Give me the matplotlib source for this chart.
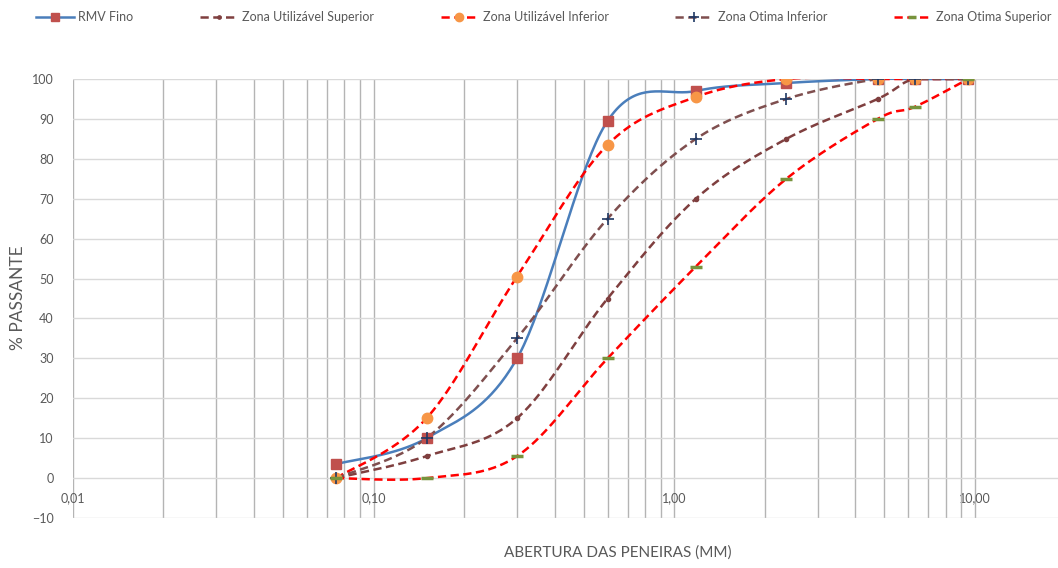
import numpy as np
import matplotlib
matplotlib.use('Agg')
import matplotlib.pyplot as plt
from matplotlib.ticker import LogLocator, FixedLocator, FixedFormatter, NullFormatter
from matplotlib.lines import Line2D

plt.rcParams['font.family'] = ['Lato', 'DejaVu Sans']

# Aberturas das peneiras (mm) e % passante
peneiras = [0.075, 0.15, 0.3, 0.6, 1.18, 2.36, 4.75, 6.3, 9.5]
rmv_fino = [3.5, 10, 30, 89.5, 97, 99, 100, 100, 100]
util_superior = [0, 5.5, 15, 45, 70, 85, 95, 100, 100]
util_inferior = [0, 15, 50.5, 83.5, 95.5, 100, 100, 100, 100]
otima_inferior = [0, 10, 35, 65, 85, 95, 100, 100, 100]
otima_superior = [0, 0, 5.5, 30, 53, 75, 90, 93, 100]

x_ticks = [0.01, 0.1, 1, 10]
x_labels = ['0,01', '0,10', '1,00', '10,00']
y_ticks = list(range(-10, 101, 10))


def suaviza(x, y, n=40):
    # curva suavizada estilo Excel (Catmull-Rom / Bezier) no espaco da tela
    X = np.log10(np.array(x, float)) * 300.7
    Y = np.array(y, float) * 4.0
    P = np.column_stack([X, Y])
    P = np.vstack([P[0], P, P[-1]])
    out = []
    for i in range(1, len(P) - 2):
        p0, p1, p2, p3 = P[i - 1], P[i], P[i + 1], P[i + 2]
        c1 = p1 + (p2 - p0) / 6
        c2 = p2 - (p3 - p1) / 6
        t = np.linspace(0, 1, n)[:, None]
        b = (1 - t) ** 3 * p1 + 3 * (1 - t) ** 2 * t * c1 + 3 * (1 - t) * t ** 2 * c2 + t ** 3 * p2
        out.append(b)
    out = np.vstack(out)
    return 10 ** (out[:, 0] / 300.7), out[:, 1] / 4.0


fig = plt.figure(figsize=(10.58, 5.68), dpi=100)
ax = fig.add_axes([73 / 1058, 1 - 518 / 568, 1 - 73 / 1058, (518 - 79) / 568])
ax.set_xscale('log')
ax.set_xlim(0.01, 18.9)
ax.set_ylim(-10, 100)

dash = (0, (3.3, 1.8))
series = [
    ('RMV Fino', rmv_fino, '#4A7EBB', '-', 's', '#C0504D', 7, 1.0),
    ('Zona Utilizável Superior', util_superior, '#7F3F3F', dash, 'o', '#7F3F3F', 3, 1.0),
    ('Zona Utilizável Inferior', util_inferior, '#FF0000', dash, 'o', '#F79646', 7.5, 1.0),
    ('Zona Otima Inferior', otima_inferior, '#7F4F4F', dash, '+', '#1F3864', 9, 1.2),
    ('Zona Otima Superior', otima_superior, '#FF0000', dash, '_', '#77933C', 8, 2.5),
]

handles = []
for nome, vals, cor, ls, mk, mcor, ms, mew in series:
    xs, ys = suaviza(peneiras, vals)
    ax.plot(xs, ys, color=cor, linestyle=ls, linewidth=1.8, zorder=3)
    ax.plot(peneiras, vals, linestyle='none', marker=mk, markersize=ms,
            markerfacecolor=mcor, markeredgecolor=mcor, markeredgewidth=mew, zorder=4)
    handles.append(Line2D([], [], color=cor, linestyle=ls, linewidth=1.8, marker=mk,
                          markersize=ms * 0.8, markerfacecolor=mcor, markeredgecolor=mcor,
                          markeredgewidth=mew, label=nome))

# grades
ax.xaxis.set_major_locator(FixedLocator(x_ticks))
ax.xaxis.set_major_formatter(FixedFormatter(x_labels))
ax.xaxis.set_minor_locator(LogLocator(base=10, subs=np.arange(2, 10)))
ax.xaxis.set_minor_formatter(NullFormatter())
ax.set_yticks(y_ticks)
ax.grid(True, which='major', axis='y', color='#D9D9D9', linewidth=1.0, zorder=0)
ax.grid(True, which='both', axis='x', color='#B4B4B4', linewidth=1.0, zorder=0)
ax.set_axisbelow(True)

for s in ax.spines.values():
    s.set_visible(False)
ax.spines['bottom'].set_position(('data', 0))
ax.tick_params(axis='both', which='both', length=0, colors='#595959', labelsize=9)
ax.tick_params(axis='x', pad=10)
ax.tick_params(axis='y', pad=14)

fig.text(618 / 1058, 1 - 553 / 568, 'ABERTURA DAS PENEIRAS (MM)', ha='center', va='center',
         fontsize=11, color='#595959')
fig.text(18 / 1058, 1 - 298 / 568, '% PASSANTE', ha='center', va='center', rotation=90,
         fontsize=12.5, color='#595959')

leg = fig.legend(handles=handles, loc='center left', bbox_to_anchor=(36 / 1058, 1 - 17 / 568), ncol=5,
                 frameon=False, fontsize=9, handlelength=3.0, columnspacing=5.3,
                 handletextpad=0.4, labelcolor='#595959', borderaxespad=0, borderpad=0)

fig.savefig('out.png', dpi=100)
